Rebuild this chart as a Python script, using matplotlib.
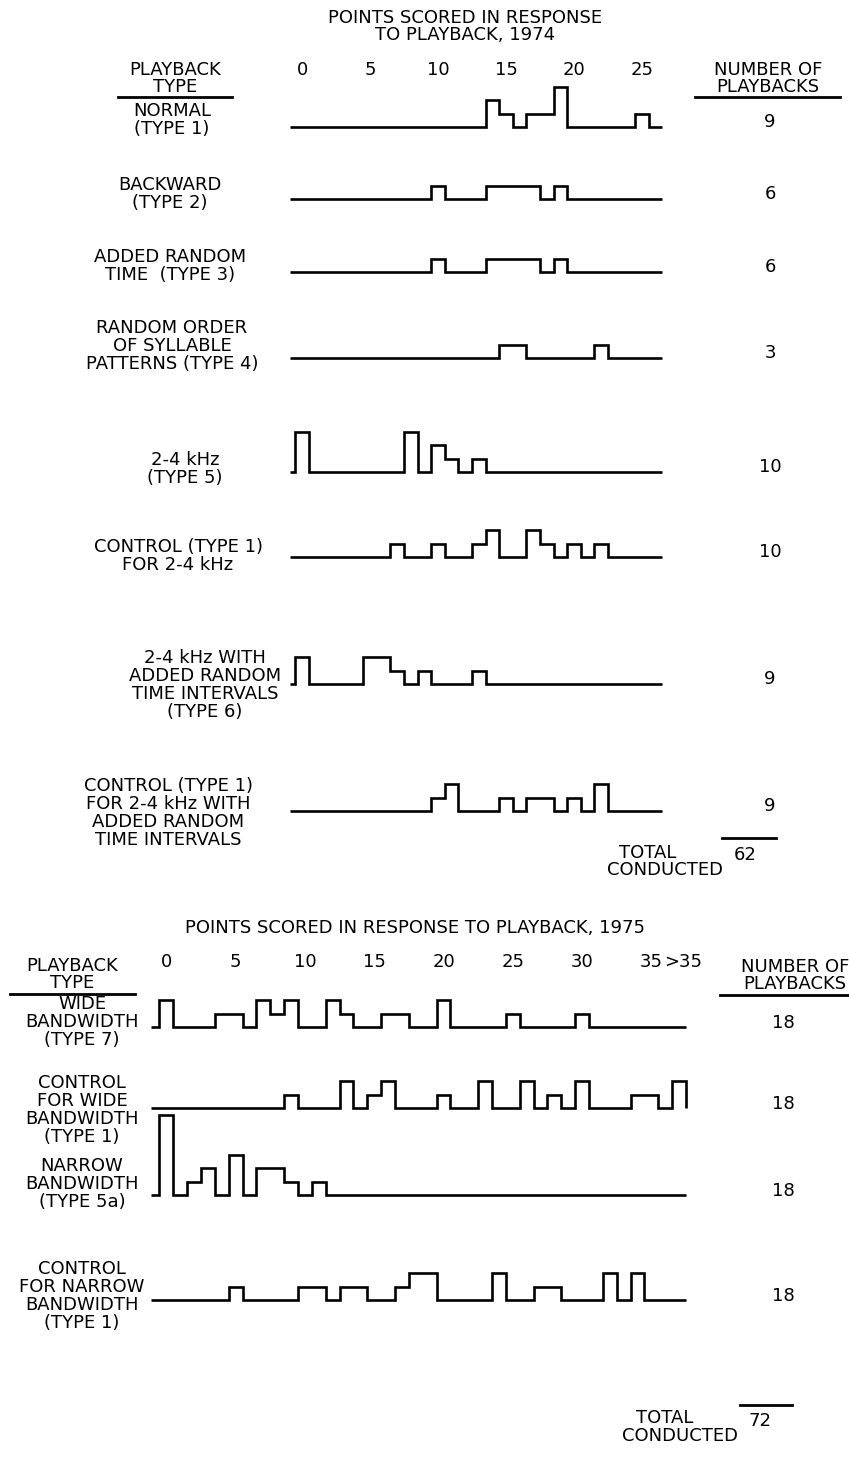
import numpy as np
import matplotlib
matplotlib.use("Agg")
import matplotlib.pyplot as plt
from matplotlib.lines import Line2D
import matplotlib.transforms as mtransforms

W, H = 849, 1459
plt.rcParams['font.family'] = ['DejaVu Sans']

# ---------------- data: 1974 ----------------
ticks_1974 = [0, 5, 10, 15, 20, 25]
tick_labels_1974 = ["0", "5", "10", "15", "20", "25"]
types_1974 = [
    "NORMAL\n(TYPE 1)",
    "BACKWARD\n(TYPE 2)",
    "ADDED RANDOM\nTIME  (TYPE 3)",
    "RANDOM ORDER\nOF SYLLABLE\nPATTERNS (TYPE 4)",
    "2-4 kHz\n(TYPE 5)",
    "CONTROL (TYPE 1)\nFOR 2-4 kHz",
    "2-4 kHz WITH\nADDED RANDOM\nTIME INTERVALS\n(TYPE 6)",
    "CONTROL (TYPE 1)\nFOR 2-4 kHz WITH\nADDED RANDOM\nTIME INTERVALS",
]
n_playbacks_1974 = [9, 6, 6, 3, 10, 10, 9, 9]
total_1974 = 62
normal = [0,0,0,0,0,0,0,0,0,0, 0,0,0,0,2,1,0,1,1,3, 0,0,0,0,0,1,0]
backward = [0,0,0,0,0,0,0,0,0,0, 1,0,0,0,1,1,1,1,0,1, 0,0,0,0,0,0,0]
added_random_time = [0,0,0,0,0,0,0,0,0,0, 1,0,0,0,1,1,1,1,0,1, 0,0,0,0,0,0,0]
random_order = [0,0,0,0,0,0,0,0,0,0, 0,0,0,0,0,1,1,0,0,0, 0,0,1,0,0,0,0]
khz_2_4 = [3,0,0,0,0,0,0,0,3,0, 2,1,0,1,0,0,0,0,0,0, 0,0,0,0,0,0,0]
control_2_4 = [0,0,0,0,0,0,0,1,0,0, 1,0,0,1,2,0,0,2,1,0, 1,0,1,0,0,0,0]
khz_2_4_random = [2,0,0,0,0,2,2,1,0,1, 0,0,0,1,0,0,0,0,0,0, 0,0,0,0,0,0,0]
control_2_4_random = [0,0,0,0,0,0,0,0,0,0, 1,2,0,0,0,1,0,1,1,0, 1,0,2,0,0,0,0]

# ---------------- data: 1975 ----------------
ticks_1975 = [0, 5, 10, 15, 20, 25, 30, 35, 37.3]
tick_labels_1975 = ["0", "5", "10", "15", "20", "25", "30", "35", ">35"]
types_1975 = [
    "WIDE\nBANDWIDTH\n(TYPE 7)",
    "CONTROL\nFOR WIDE\nBANDWIDTH\n(TYPE 1)",
    "NARROW\nBANDWIDTH\n(TYPE 5a)",
    "CONTROL\nFOR NARROW\nBANDWIDTH\n(TYPE 1)",
]
n_playbacks_1975 = [18, 18, 18, 18]
total_1975 = 72
wide = [2,0,0,0,1,1,0,2,1,2, 0,0,2,1,0,0,1,1,0,0, 2,0,0,0,0,1,0,0,0,0, 1,0,0,0,0,0,0,0]
control_wide = [0,0,0,0,0,0,0,0,0,1, 0,0,0,2,0,1,2,0,0,0, 1,0,0,2,0,0,2,0,1,0, 2,0,0,0,1,1,0,2]
narrow = [6,0,1,2,0,3,0,2,2,1, 0,1,0,0,0,0,0,0,0,0, 0,0,0,0,0,0,0,0,0,0, 0,0,0,0,0,0,0,0]
control_narrow = [0,0,0,0,0,1,0,0,0,0, 1,1,0,1,1,0,0,1,2,2, 0,0,0,0,2,0,0,1,1,0, 0,0,2,0,2,0,0,0]

series_1974 = [normal, backward, added_random_time, random_order,
               khz_2_4, control_2_4, khz_2_4_random, control_2_4_random]
series_1975 = [wide, control_wide, narrow, control_narrow]

# ---------------- layout ----------------
fig = plt.figure(figsize=(W / 100, H / 100), dpi=100)
fig.patch.set_facecolor("white")
FS = 13
LW = 1.9


def P(x, y):
    return x / W, 1 - y / H


def text(x, y, s, **kw):
    kw.setdefault("ha", "center")
    kw.setdefault("va", "center")
    kw.setdefault("fontsize", FS)
    kw.setdefault("linespacing", 0.95)
    fig.text(*P(x, y), s, **kw)


def hline(x0, x1, y, lw=2.0):
    (a, b), (c, d) = P(x0, y), P(x1, y)
    fig.add_artist(Line2D([a, c], [b, d], color="black", lw=lw,
                          transform=fig.transFigure))


def row_axes(x0, x1, base, xc0, xstep, unit, up=100, down=8):
    ax = fig.add_axes([x0 / W, 1 - (base + down) / H, (x1 - x0) / W, (up + down) / H])
    ax.set_xlim((x0 - xc0) / xstep, (x1 - xc0) / xstep)
    ax.set_ylim(-down / unit, up / unit)
    ax.axis("off")
    return ax


def draw_steps(ax, vals, start):
    n = len(vals)
    edges = np.concatenate([[start], np.arange(n + 1) - 0.5])
    v = np.concatenate([[0], np.asarray(vals, float)])
    ax.stairs(v, edges, baseline=0, fill=False, color="black", lw=LW,
              joinstyle="miter")


# ---- 1974 panel ----
XC0_A, XSTEP_A, UNIT_A = 302.0, 13.6, 13.3
base_1974 = [127, 199, 272, 358, 472, 557, 684, 811]
label_y_1974 = [120, 194, 266, 346, 469, 556, 685, 813]
label_x_1974 = [172, 170, 170, 172, 185, 178, 205, 168]

text(465, 18, "POINTS SCORED IN RESPONSE")
text(465, 35, "TO PLAYBACK, 1974")
text(175, 70, "PLAYBACK")
text(175, 87, "TYPE")
hline(118, 232, 97)
text(768, 70, "NUMBER OF")
text(768, 87, "PLAYBACKS")
hline(695, 840, 97)

axes_a = []
for i, vals in enumerate(series_1974):
    ax = row_axes(270, 690, base_1974[i], XC0_A, XSTEP_A, UNIT_A)
    draw_steps(ax, vals, -0.88)
    axes_a.append(ax)
    text(label_x_1974[i], label_y_1974[i], types_1974[i], linespacing=1.0)
    text(770, base_1974[i] - 5, str(n_playbacks_1974[i]))

tr_a = mtransforms.blended_transform_factory(axes_a[0].transData, fig.transFigure)
for t, lab in zip(ticks_1974, tick_labels_1974):
    fig.text(t, 1 - 70 / H, lab, transform=tr_a, ha="center", va="center", fontsize=FS)

text(648, 853, "TOTAL")
text(665, 870, "CONDUCTED")
hline(722, 776, 838)
text(745, 855, str(total_1974))

# ---- 1975 panel ----
XC0_B, XSTEP_B, UNIT_B = 166.3, 13.86, 13.3
base_1975 = [1027, 1108, 1195, 1300]
label_y_1975 = [1022, 1110, 1184, 1296]
label_x_1975 = [82, 82, 82, 82]

text(415, 928, "POINTS SCORED IN RESPONSE TO PLAYBACK, 1975")
text(72, 966, "PLAYBACK")
text(72, 983, "TYPE")
hline(10, 135, 994)
text(795, 967, "NUMBER OF")
text(795, 984, "PLAYBACKS")
hline(720, 848, 995)

axes_b = []
for i, vals in enumerate(series_1975):
    ax = row_axes(140, 700, base_1975[i], XC0_B, XSTEP_B, UNIT_B)
    draw_steps(ax, vals, -1.1)
    axes_b.append(ax)
    text(label_x_1975[i], label_y_1975[i], types_1975[i], linespacing=1.0)
    text(783, base_1975[i] - 4, str(n_playbacks_1975[i]))

tr_b = mtransforms.blended_transform_factory(axes_b[0].transData, fig.transFigure)
for t, lab in zip(ticks_1975, tick_labels_1975):
    fig.text(t, 1 - 962 / H, lab, transform=tr_b, ha="center", va="center", fontsize=FS)

text(665, 1418, "TOTAL")
text(680, 1436, "CONDUCTED")
hline(740, 792, 1405)
text(760, 1421, str(total_1975))

fig.savefig("out.png", dpi=100, facecolor="white")
